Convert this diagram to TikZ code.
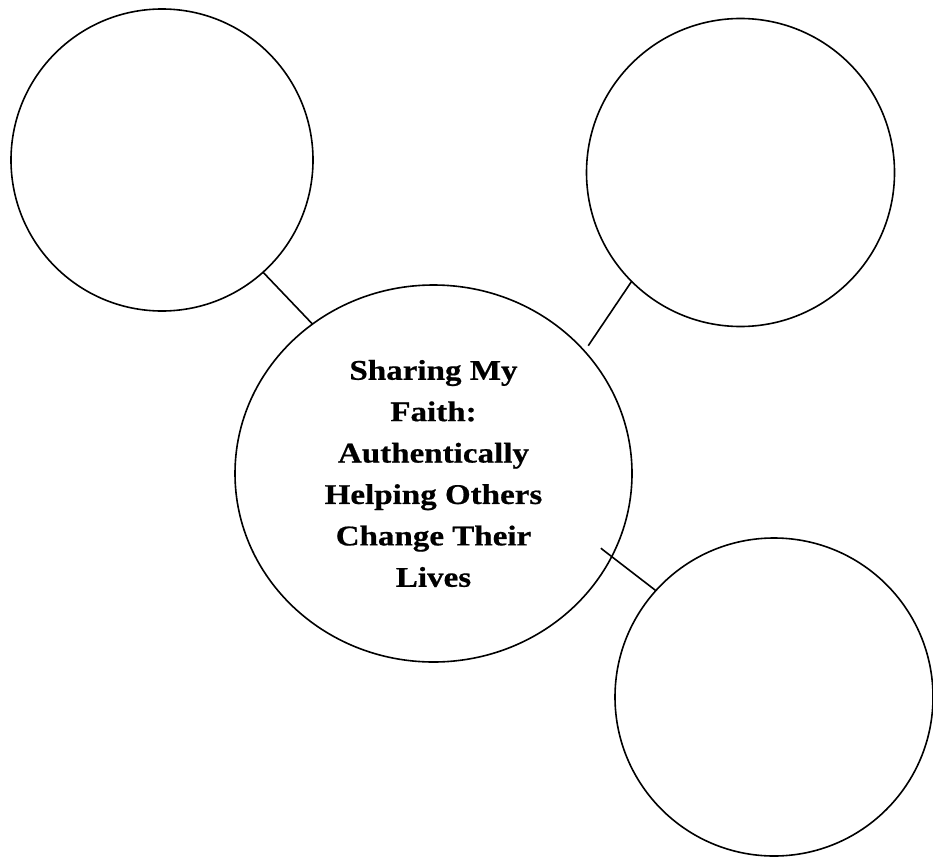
\documentclass[tikz,border=0pt]{standalone}
\usepackage{fontspec}
\newfontfamily\labelfont[FakeStretch=1.16,FakeBold=0.6]{Liberation Serif}
\usetikzlibrary{shapes.geometric}
\begin{document}
\begin{tikzpicture}[x=1pt,y=-1pt,
  bubble/.style={draw=black,line width=1.6pt,circle,inner sep=0pt,outer sep=0pt},
  hub/.style={draw=black,line width=1.6pt,ellipse,inner sep=0pt,outer sep=0pt,
    minimum width=397pt,minimum height=377pt,align=center,
    font=\labelfont\bfseries\fontsize{28.5}{41.4}\selectfont},
  link/.style={draw=black,line width=1.6pt}]
\useasboundingbox (0,0) rectangle (933,856);
\node[bubble,minimum size=302pt] (tl) at (162,160) {};
\node[bubble,minimum size=308pt] (tr) at (740.5,172.5) {};
\node[bubble,minimum size=318pt] (br) at (774,697) {};
\node[hub] (c) at (433.5,473.5) {Sharing My\\Faith:\\Authentically\\Helping Others\\Change Their\\Lives};
\draw[link] (tl.-48.7) -- (c.129.1);
\draw[link,shorten >=6.6pt] (tr.225.8) -- (c.39.7);
\draw[link,shorten >=-13.7pt] (br.138.3) -- (c.-25.5);
\end{tikzpicture}
\end{document}
